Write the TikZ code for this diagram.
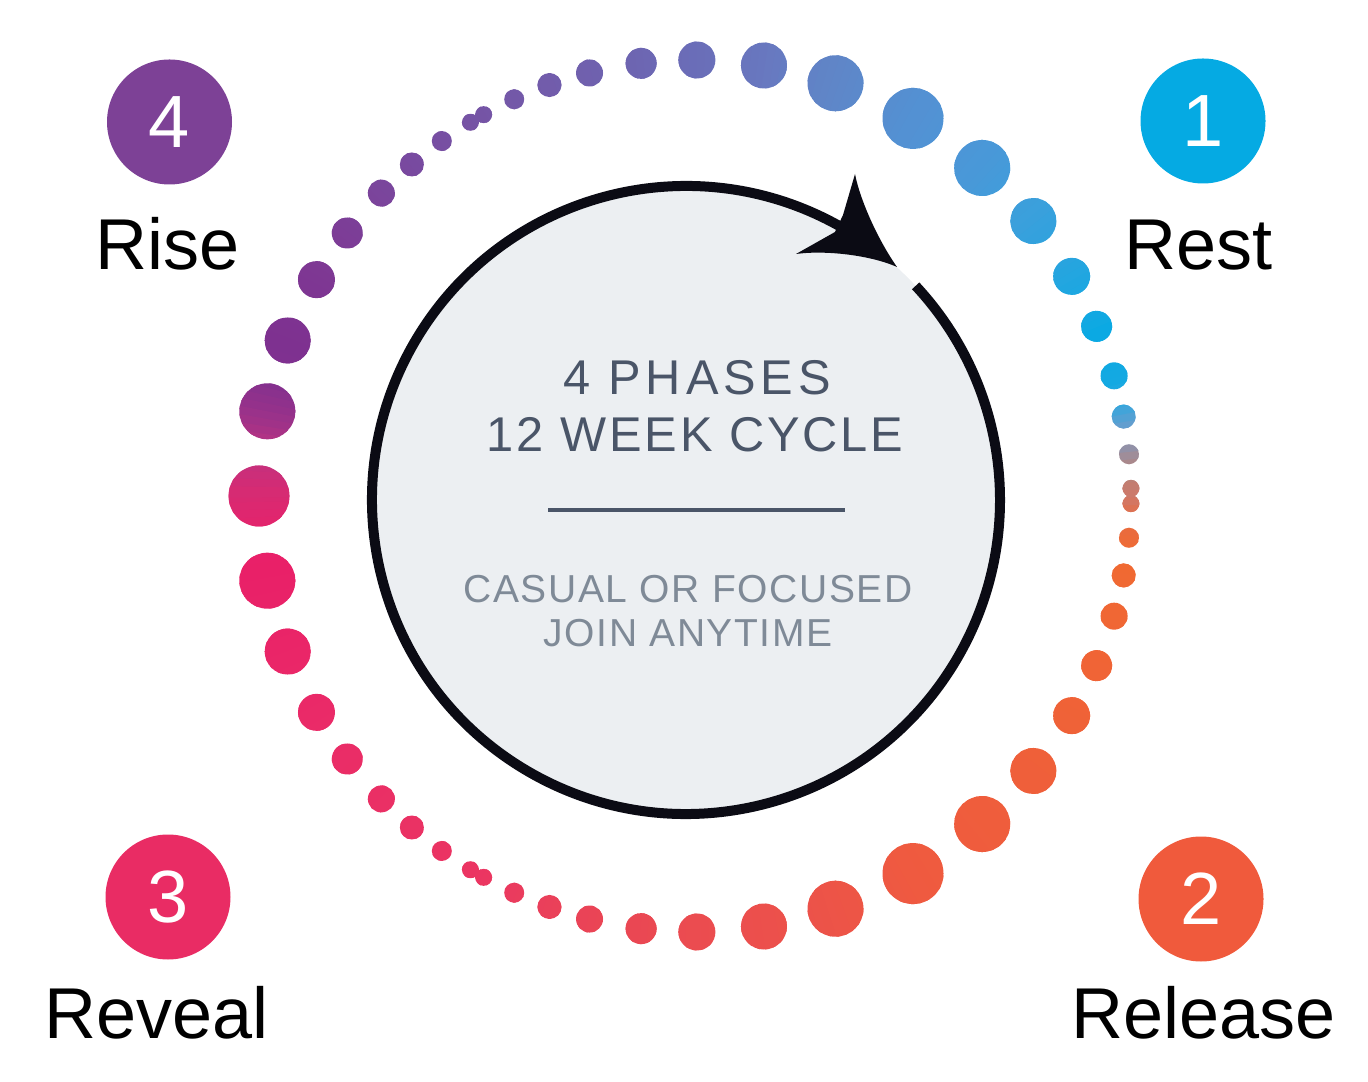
\documentclass[tikz,border=0pt]{standalone}
\usepackage{fontspec}
\setmainfont{Liberation Sans}
\newfontfamily\trackA[LetterSpace=6]{Liberation Sans}
\newfontfamily\trackC[LetterSpace=10]{Liberation Sans}
\newfontfamily\trackB[LetterSpace=4]{Liberation Sans}
\definecolor{rimcol}{HTML}{0B0B14}
\definecolor{discfill}{HTML}{ECEFF2}
\definecolor{slate}{HTML}{4A5568}
\definecolor{mist}{HTML}{7F8A97}
\definecolor{cRest}{HTML}{05AAE3}
\definecolor{cRelease}{HTML}{F05A3C}
\definecolor{cReveal}{HTML}{E92C64}
\definecolor{cRise}{HTML}{7D4196}
\begin{document}
\begin{tikzpicture}[x=0.5pt,y=0.5pt,
  badge/.style={circle,minimum size=62.5pt,inner sep=0pt,text=white,font=\fontsize{37pt}{40pt}\selectfont},
  lbl/.style={anchor=base,inner sep=0pt,text=black,font=\fontsize{36pt}{40pt}\selectfont},
  headtxt/.style={anchor=base,inner sep=0pt,text=slate,font=\trackA\fontsize{24.4pt}{28pt}\selectfont},
  subtxt/.style={anchor=base,inner sep=0pt,text=mist,font=\trackB\fontsize{19.5pt}{22pt}\selectfont}]
\useasboundingbox (0,0) rectangle (1368,1081);

% ring of dots with a conic colour gradient
\begin{scope}
\clip foreach \c in {60,180,300}{
  foreach \o/\r in {0/30.5,11.2/28,-11.2/28,20.9/23,-20.9/23,29.75/18.5,-29.75/18.5,37.1/15.5,-37.1/15.5,44/13.5,-44/13.5,49.5/12,-49.5/12,54.5/10,-54.5/10,59/8.5,-59/8.5}{
    ({695+436*cos(\c+\o)},{585+436*sin(\c+\o)}) circle[radius=\r]
  }
};
\foreach \ang/\col [remember=\ang as \pang (initially -180), remember=\col as \pcol (initially D82A72)] in
 {-174/E8216A,-170/E92068,-150/EA2A68,-130/EA3264,-120/EB3462,-110/EA405A,-100/EA4654,-90/EB4C50,-75/EC524A,-60/EF5A40,-40/EF5F3A,-20/F06535,-8/F06A32,-3/E86C40,0/D07868,3/B88278,6/9A8FA0,9/6A9CCC,12/3AA6DC,15/15A9E2,22/0AA9E3,30/22A6E0,40/3AA0DC,50/4A98D8,60/5391D3,72/5F86C8,81/6878BF,90/6A6DB8,100/6E64B0,110/725CAB,120/7554A5,130/784BA0,140/7C4199,150/7E3793,160/7E3190,165/82308F,170/9C3289,174/BC3382,180/D82A72}{
  \edef\tmpdef{\noexpand\definecolor{wa}{HTML}{\pcol}\noexpand\definecolor{wb}{HTML}{\col}}\tmpdef
  \pgfmathtruncatemacro\nn{\ang-\pang}
  \foreach \k in {1,...,\nn}{
    \pgfmathsetmacro\pp{100*(\k-0.5)/\nn}
    \pgfmathsetmacro\sa{\pang+\k-1.2}
    \pgfmathsetmacro\sb{\pang+\k+0.2}
    \fill[wb!\pp!wa] (695,585) -- +(\sa:490) -- +(\sb:490) -- cycle;
  }
}
\end{scope}

% central disc with arrow
\fill[discfill] (686,581) circle[radius=314];
\draw[rimcol,line width=5pt] ([shift={(59:314)}]686,581) arc[start angle=59,end angle=403,radius=314];
\fill[rimcol] (855,907) -- (843,866) -- (835,849) -- (796,827)
  .. controls (825,831) and (870,826) .. (897,814)
  .. controls (878,841) and (860,881) .. (855,907) -- cycle;

% centre texts
\node[headtxt,font=\trackC\fontsize{24.4pt}{28pt}\selectfont] (t1) at (697,686) {4 PHASES};
\node[headtxt] (t2) at (695,629) {12 WEEK CYCLE};
\draw[slate,line width=1.6pt] (548,571) -- (845,571);
\node[subtxt] (t3) at (688,478) {CASUAL OR FOCUSED};
\node[subtxt] (t4) at (688,434) {JOIN ANYTIME};

% badges
\node[badge,fill=cRise] (b4) at (169.5,959) {4};
\node[badge,fill=cRest] (b1) at (1203,960) {1};
\node[badge,fill=cRelease] (b2) at (1201,182) {2};
\node[badge,fill=cReveal] (b3) at (168,184) {3};

% labels
\node[lbl] (l4) at (168,811) {Rise};
\node[lbl] (l1) at (1198.5,811) {Rest};
\node[lbl] (l3) at (156.5,43) {Reveal};
\node[lbl] (l2) at (1203.5,43) {Release};
\end{tikzpicture}
\end{document}
